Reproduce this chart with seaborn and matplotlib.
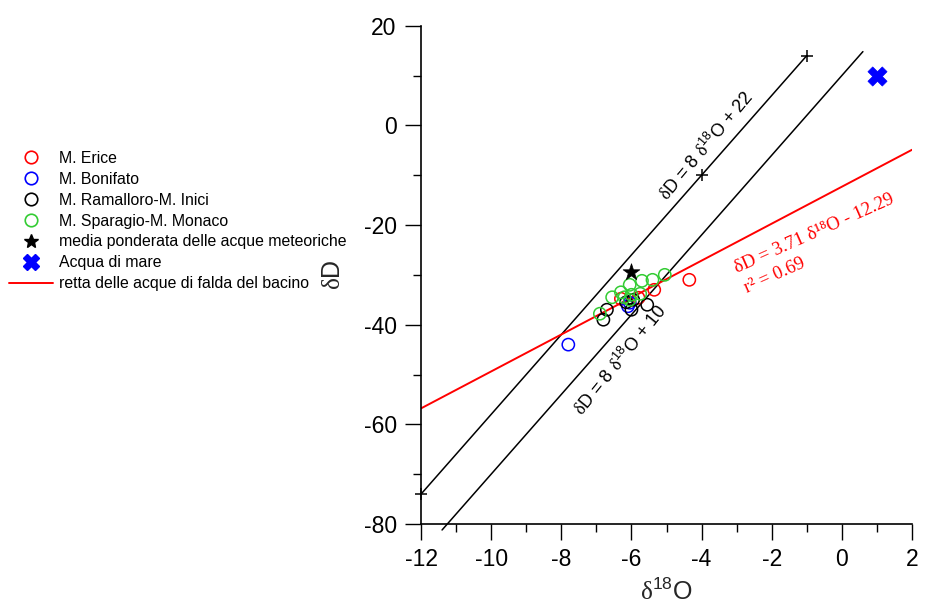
import numpy as np
import pandas as pd
import seaborn as sns
import matplotlib.pyplot as plt
from matplotlib.lines import Line2D
from matplotlib.ticker import MultipleLocator

# isotope data
erice_d18o = [-4.35, -5.35, -5.8, -6.3]
erice_dd = [-31.0, -33.0, -34.6, -34.8]
bonifato_d18o = [-7.8, -6.1, -6.05]
bonifato_dd = [-44.0, -36.3, -35.6]
ramalloro_d18o = [-5.55, -6.0, -6.7, -6.8, -5.95, -6.15]
ramalloro_dd = [-36.0, -37.0, -37.0, -39.0, -35.0, -35.5]
sparagio_d18o = [-5.05, -5.4, -5.7, -6.05, -6.3, -6.55, -6.9, -6.0, -5.75, -6.05, -6.2]
sparagio_dd = [-30.0, -31.0, -31.2, -32.0, -33.5, -34.5, -37.8, -34.0, -33.8, -35.0, -34.5]
rain_d18o = [-6.0]
rain_dd = [-29.5]
sea_d18o = [1.0]
sea_dd = [10.0]

# reference lines (endpoints)
lmm_x = [-12, -4, -1]
lmm_y = [-74, -10, 14]
gmwl_x = [-11.4, 0.6]
gmwl_y = [-81.2, 14.8]
fit_x = [-12, 2]
fit_y = [-56.8, -4.9]

labels = ['M. Erice', 'M. Bonifato', 'M. Ramalloro-M. Inici', 'M. Sparagio-M. Monaco',
          'media ponderata delle acque meteoriche', 'Acqua di mare',
          'retta delle acque di falda del bacino']
colors = ['#ff0000', '#0000ff', '#000000', '#33cc33']

sns.set_theme(style='ticks')
plt.rcParams['font.family'] = ['Liberation Sans', 'DejaVu Sans']
plt.rcParams['mathtext.fontset'] = 'custom'
plt.rcParams['mathtext.rm'] = 'Liberation Sans'
plt.rcParams['mathtext.sf'] = 'Liberation Serif'
plt.rcParams['mathtext.default'] = 'regular'
plt.rcParams['axes.unicode_minus'] = False
plt.rcParams['text.color'] = 'black'
plt.rcParams['xtick.labelcolor'] = 'black'
plt.rcParams['ytick.labelcolor'] = 'black'

D = r'$\mathsf{δ}$'  # serif delta like the original

groups = pd.DataFrame({
    'd18o': erice_d18o + bonifato_d18o + ramalloro_d18o + sparagio_d18o,
    'dd': erice_dd + bonifato_dd + ramalloro_dd + sparagio_dd,
    'group': [labels[0]] * len(erice_d18o) + [labels[1]] * len(bonifato_d18o)
             + [labels[2]] * len(ramalloro_d18o) + [labels[3]] * len(sparagio_d18o),
})

fig = plt.figure(figsize=(9.29, 6.12), dpi=100)
ax = fig.add_axes([0.4532, 0.1438, 0.5285, 0.8142])

# meteoric water lines
sns.lineplot(x=gmwl_x, y=gmwl_y, color='black', lw=1.1, ax=ax, clip_on=False)
sns.lineplot(x=lmm_x, y=lmm_y, color='black', lw=1.1, marker='+', markersize=8,
             markeredgewidth=1.1, markeredgecolor='black', ax=ax, clip_on=False)
sns.lineplot(x=fit_x, y=fit_y, color='#ff0000', lw=1.4, ax=ax)

for lab, col in zip(labels[:4], colors):
    sub = groups[groups['group'] == lab]
    sns.scatterplot(data=sub, x='d18o', y='dd', marker='o', s=78, color=col,
                    facecolor='none', edgecolor=col, linewidth=1.1, ax=ax, zorder=3)

sns.scatterplot(x=rain_d18o, y=rain_dd, marker='*', s=160, color='black',
                edgecolor='black', linewidth=0.5, ax=ax, zorder=4)
sns.scatterplot(x=sea_d18o, y=sea_dd, marker='X', s=190, color='#0000ff',
                edgecolor='#0000ff', linewidth=0.5, ax=ax, zorder=4)

ax.set_xlim(-12, 2)
ax.set_ylim(-80, 20)
ax.xaxis.set_major_locator(MultipleLocator(2))
ax.xaxis.set_minor_locator(MultipleLocator(1))
ax.yaxis.set_major_locator(MultipleLocator(20))
ax.yaxis.set_minor_locator(MultipleLocator(10))
ax.tick_params(which='major', length=11.5, width=1, labelsize=16.5, pad=6, color='black')
ax.tick_params(which='minor', length=5.8, width=1, color='black')
for s in ['top', 'right']:
    ax.spines[s].set_visible(False)
for s in ['left', 'bottom']:
    ax.spines[s].set_linewidth(1.2)
    ax.spines[s].set_color('black')

ax.set_xlabel(D + r'$^{18}$O', fontsize=18, labelpad=5)
ax.set_ylabel(D + 'D', fontsize=18, va='center')
ax.yaxis.set_label_coords(-0.179, 0.5)

# line annotations
ax.text(-3.86, -4.2, D + 'D = 8 ' + D + r'$^{18}$O + 22', fontsize=13, rotation=50,
        rotation_mode='anchor', ha='center', va='center')
ax.text(-6.31, -47.0, D + 'D = 8 ' + D + r'$^{18}$O + 10', fontsize=13, rotation=51,
        rotation_mode='anchor', ha='center', va='center')
ax.text(-2.99, -29.6, 'δD = 3.71 δ¹⁸O - 12.29', fontsize=13.5, rotation=24,
        rotation_mode='anchor', ha='left', va='baseline', color='#ff0000',
        family=['Liberation Serif', 'DejaVu Serif'])
ax.text(-2.70, -33.6, 'r² = 0.69', fontsize=13.5, rotation=24,
        rotation_mode='anchor', ha='left', va='baseline', color='#ff0000',
        family=['Liberation Serif', 'DejaVu Serif'])

handles = [Line2D([], [], ls='none', marker='o', ms=9, mfc='none', mec=c, mew=1.2)
           for c in colors]
handles.append(Line2D([], [], ls='none', marker='*', ms=10.5, color='black'))
handles.append(Line2D([], [], ls='none', marker='X', ms=11, color='#0000ff'))
handles.append(Line2D([], [], color='#ff0000', lw=1.4))
fig.legend(handles, labels, loc='upper left', bbox_to_anchor=(9 / 929, 1 - 151 / 612),
           frameon=False, fontsize=11.4, borderpad=0, borderaxespad=0,
           handlelength=2.75, handletextpad=0.4, labelspacing=0.37)

fig.savefig('out.png', dpi=100)
